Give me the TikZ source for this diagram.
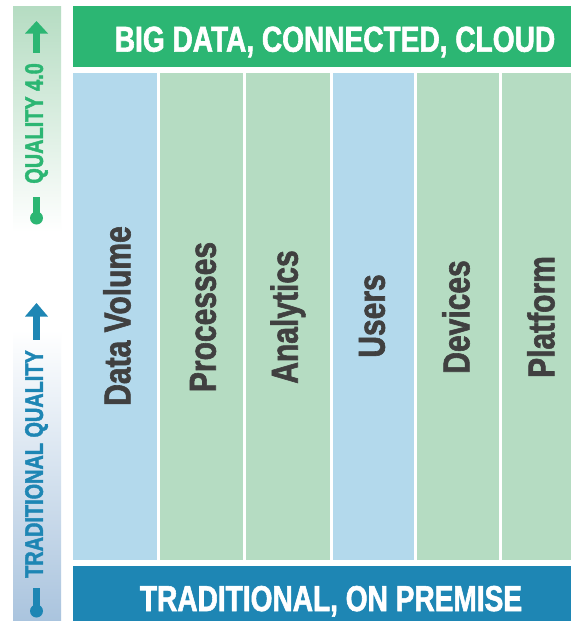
\documentclass[tikz,border=0pt]{standalone}
\usepackage{fontspec}
\newfontfamily\cnd[FakeStretch=0.78,FakeBold=1.6]{Liberation Sans Bold}
\newfontfamily\cndc[FakeStretch=0.8,FakeBold=1.6]{Liberation Sans Bold}
\definecolor{bgreen}{RGB}{44,182,115}
\definecolor{bblue}{RGB}{30,134,180}
\definecolor{lgreen}{RGB}{181,220,194}
\definecolor{lblue}{RGB}{179,217,236}
\definecolor{barblue}{RGB}{170,196,222}
\definecolor{txtgray}{RGB}{64,64,64}
\begin{document}
\begin{tikzpicture}[x=1pt,y=-1pt,
  bannertext/.style={text=white,font=\cnd\fontsize{36}{36}\selectfont,inner sep=0pt,anchor=base},
  coltext/.style={text=txtgray,font=\cndc\fontsize{37.5}{37.5}\selectfont,inner sep=0pt,rotate=90},
  sidetext/.style={font=\cnd\fontsize{25.5}{25.5}\selectfont,inner sep=0pt,rotate=90,anchor=east}]
\useasboundingbox (0,0) rectangle (571,621);
\fill[white] (0,0) rectangle (571,621);
% left bar
\shade[top color=lgreen,bottom color=white] (13,6) rectangle (61,232);
\shade[top color=white,bottom color=barblue] (13,330) rectangle (61,621);
% green arrow
\fill[bgreen] (36.5,21) -- (48,33.5) -- (25,33.5) -- cycle;
\fill[bgreen] (33,33) rectangle (40,53);
\node[sidetext,text=bgreen] (q4) at (36.5,63) {QUALITY 4.0};
\fill[bgreen] (33,197) rectangle (40,214);
\fill[bgreen] (36.5,218) circle (6.5);
% blue arrow
\fill[bblue] (36.5,303) -- (48,316.5) -- (25,316.5) -- cycle;
\fill[bblue] (33,316) rectangle (40,340);
\node[sidetext,text=bblue] (tq) at (36.5,350) {TRADITIONAL QUALITY};
\fill[bblue] (33,588) rectangle (40,607);
\fill[bblue] (36.5,611) circle (6.5);
% banners
\fill[bgreen] (73,6) rectangle (571,67);
\node[bannertext] (top) at (335,51.7) {BIG DATA, CONNECTED, CLOUD};
\fill[bblue] (73,566) rectangle (571,621);
\node[bannertext] (bot) at (331,611) {TRADITIONAL, ON PREMISE};
% columns
\fill[lblue] (73,73) rectangle (157,560);
\fill[lgreen] (160,73) rectangle (243,560);
\fill[lgreen] (246,73) rectangle (330,560);
\fill[lblue] (333,73) rectangle (414,560);
\fill[lgreen] (417,73) rectangle (499,560);
\fill[lgreen] (502,73) rectangle (571,560);
\node[coltext] (c1) at (117,316) {Data Volume};
\node[coltext] (c2) at (203,317) {Processes};
\node[coltext] (c3) at (288,317) {Analytics};
\node[coltext] (c4) at (372,316) {Users};
\node[coltext] (c5) at (456,317) {Devices};
\node[coltext] (c6) at (541,317) {Platform};
\end{tikzpicture}
\end{document}
